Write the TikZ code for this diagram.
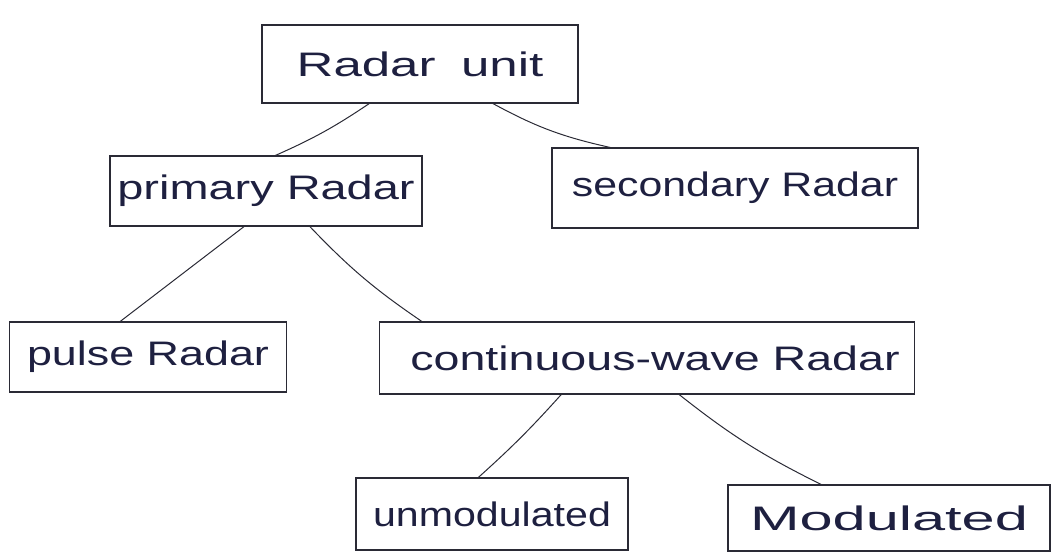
\documentclass[tikz,border=0pt]{standalone}
\usepackage{fontspec}
\setmainfont{Liberation Sans}
\usetikzlibrary{calc}
\definecolor{ink}{HTML}{2A2A35}
\definecolor{pen}{HTML}{1E2040}
\newcommand\hw[2]{\scalebox{#1}[1]{#2}}
\begin{document}
\begin{tikzpicture}[x=1pt,y=-1pt,
  box/.style={draw=ink,line width=1.1pt,rectangle,text=pen,font=\fontsize{34}{40}\selectfont,inner sep=0pt},
  link/.style={draw=ink,line width=1pt}]
\useasboundingbox (0,0) rectangle (1059,551);
\node[box,minimum width=316pt,minimum height=78pt] (ru) at (420,64) {\hw{1.5}{Radar\enspace unit}\hspace{12pt}};
\node[box,minimum width=312pt,minimum height=70pt] (pr) at (266,191) {\hw{1.38}{primary Radar}\hspace{8pt}};
\node[box,minimum width=366pt,minimum height=80pt] (sr) at (735,188) {\hw{1.26}{secondary Radar}\hspace{14pt}};
\node[box,minimum width=277pt,minimum height=70pt] (pu) at (148,357) {\hw{1.32}{pulse Radar}\hspace{14pt}};
\node[box,minimum width=535pt,minimum height=72pt] (cw) at (647,358) {\hspace{16pt}\hw{1.37}{continuous-wave Radar}};
\node[box,minimum width=272pt,minimum height=72pt] (um) at (492,514) {\hw{1.21}{unmodulated}\hspace{20pt}};
\node[box,minimum width=322pt,minimum height=66pt] (mo) at (889,518) {\hw{1.75}{Modulated}};
\draw[link] ($(ru.south west)!0.34!(ru.south east)$) to[bend left=5] ($(pr.north west)!0.53!(pr.north east)$);
\draw[link] ($(ru.south west)!0.73!(ru.south east)$) to[bend right=8] ($(sr.north west)!0.16!(sr.north east)$);
\draw[link] ($(pu.north west)!0.40!(pu.north east)$) -- ($(pr.south west)!0.43!(pr.south east)$);
\draw[link] ($(cw.north west)!0.08!(cw.north east)$) to[bend left=6] ($(pr.south west)!0.64!(pr.south east)$);
\draw[link] ($(um.north west)!0.45!(um.north east)$) to[bend right=3] ($(cw.south west)!0.34!(cw.south east)$);
\draw[link] ($(mo.north west)!0.29!(mo.north east)$) to[bend left=6] ($(cw.south west)!0.56!(cw.south east)$);
\end{tikzpicture}
\end{document}
